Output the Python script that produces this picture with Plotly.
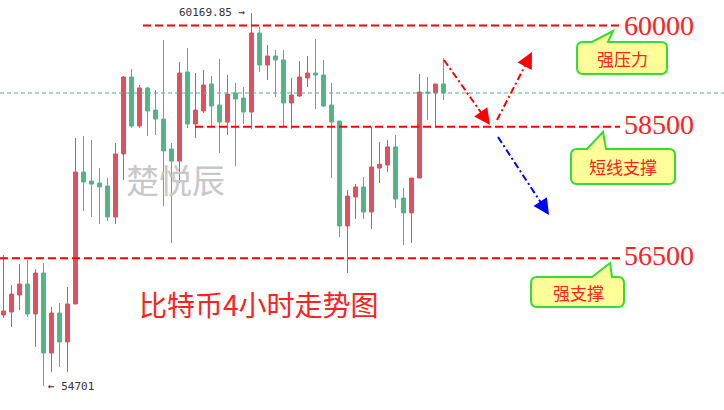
import plotly.graph_objects as go

# ---- data (4h candles) ----
opens = [55742, 55786, 56035, 56196, 55756, 56357, 55185, 55771, 55346, 55903,
         57838, 57706, 57677, 57633, 57179, 58103, 59231, 58513, 59070, 58747,
         58615, 58176, 57998, 59305, 58542, 58733, 59129, 58821, 58571, 58997,
         58923, 58718, 59877, 59407, 59539, 59481, 58850, 58953, 59217, 59290,
         59261, 58821, 58586, 57047, 57472, 57619, 57252, 57897, 57941, 58206,
         57457, 57238, 57750, 59011, 58997, 59129]
highs = [56621, 56181, 56489, 56548, 56415, 56504, 55859, 55917, 56152, 58337,
         58366, 58308, 57897, 57750, 58264, 59246, 59349, 59114, 59085, 59041,
         59774, 58264, 59451, 59657, 59290, 59334, 59246, 59495, 59261, 59143,
         59085, 60169.85, 59965, 59701, 59627, 59627, 59217, 59466, 59539, 59789,
         59481, 59143, 58586, 57575, 57662, 57765, 58498, 58278, 58308, 58381,
         57604, 57750, 59275, 59231, 59129, 59510]
lows = [55698, 55566, 55815, 55712, 55273, 54701, 54906, 54979, 54906, 55903,
        57267, 57179, 57076, 57120, 57076, 57721, 58484, 58484, 58366, 58381,
        57340, 56797, 57677, 58484, 58337, 58704, 58498, 58117, 58381, 57926,
        58542, 58469, 59305, 59187, 58938, 58513, 58469, 58938, 59085, 58762,
        58791, 57750, 56885, 56357, 57149, 57149, 57003, 57677, 57838, 57311,
        56768, 56797, 57750, 58601, 58498, 58894]
closes = [55800, 56049, 56196, 55756, 56357, 55185, 55771, 55346, 55903, 57838,
          57692, 57662, 57619, 57179, 58103, 59231, 58513, 59070, 58733, 58615,
          58147, 57998, 59290, 58542, 58747, 59114, 58806, 58571, 58982, 58909,
          58718, 59877, 59407, 59539, 59481, 58850, 58967, 59231, 59290, 59261,
          58806, 58571, 57047, 57486, 57619, 57252, 57912, 57952, 58206, 57442,
          57238, 57750, 59011, 58997, 59129, 58997]
idx = list(range(len(opens)))

level_labels = ["60000", "58500", "56500"]
level_prices = [59985, 58503, 56575]   # drawn line heights
high_label = "60169.85 →"
low_label = "← 54701"
last_price = 58997

W, H = 724, 410
def PX(x):
    return x / W
def PY(y):
    return 1 - y / H

RED = "#e0505f"
GREEN = "#52b585"

fig = go.Figure(go.Candlestick(
    x=idx, open=opens, high=highs, low=lows, close=closes,
    increasing=dict(line=dict(color=RED, width=1), fillcolor=RED),
    decreasing=dict(line=dict(color=GREEN, width=1), fillcolor=GREEN),
    whiskerwidth=0, showlegend=False, hoverinfo="skip"))

shapes = []
# current price line
shapes.append(dict(type="line", xref="paper", yref="y", x0=0, x1=1,
                   y0=last_price, y1=last_price,
                   line=dict(color="#5aae8a", width=1, dash="4px,3px")))
# level lines
starts = [143, 195, 0]
for lp, sx in zip(level_prices, starts):
    shapes.append(dict(type="line", xref="paper", yref="y", x0=PX(sx), x1=PX(620),
                       y0=lp, y1=lp, line=dict(color="#ff0000", width=2, dash="8px,4px")))

# dash-dot arrows (lines)
arrows = [((444, 60), (487, 121), "#ff0000"),
          ((497, 120), (529, 58), "#ff0000"),
          ((498, 137), (545, 209), "#0000ff")]
for (x0, y0), (x1, y1), col in arrows:
    shapes.append(dict(type="line", xref="paper", yref="paper",
                       x0=PX(x0), y0=PY(y0), x1=PX(x1), y1=PY(y1),
                       line=dict(color=col, width=2, dash="7px,3px,2px,3px")))

def callout(x0, y0, x1, y1, bl, tx, ty, br, r=6):
    pts = [("M", [(x0 + r, y0)]), ("L", [(bl, y0)]), ("L", [(tx, ty)]), ("L", [(br, y0)]),
           ("L", [(x1 - r, y0)]), ("Q", [(x1, y0), (x1, y0 + r)]), ("L", [(x1, y1 - r)]),
           ("Q", [(x1, y1), (x1 - r, y1)]), ("L", [(x0 + r, y1)]),
           ("Q", [(x0, y1), (x0, y1 - r)]), ("L", [(x0, y0 + r)]),
           ("Q", [(x0, y0), (x0 + r, y0)])]
    s = " ".join(c + " " + " ".join(f"{PX(a):.5f},{PY(b):.5f}" for a, b in p) for c, p in pts) + " Z"
    return dict(type="path", xref="paper", yref="paper", path=s,
                fillcolor="#ffff99", line=dict(color="#33dd33", width=2))

shapes.append(callout(577, 42, 667, 74, 592, 613, 31, 608))
shapes.append(callout(571, 149, 675, 184, 587, 603, 132, 606))
shapes.append(callout(531, 277, 624, 307, 592, 610, 263, 612))

ann = []
# arrow heads
heads = [((490, 125), (-5.8, -8.2), "#ff0000"),
         ((532, 52), (-4.6, 8.9), "#ff0000"),
         ((549, 215), (-5.5, -8.4), "#0000ff")]
for (x, y), (ax, ay), col in heads:
    ann.append(dict(x=PX(x), y=PY(y), xref="paper", yref="paper", text="",
                    showarrow=True, ax=ax, ay=ay, arrowhead=2, arrowsize=1.6,
                    arrowwidth=2, arrowcolor=col))

label_y = [25, 124, 255]
for t, ly in zip(level_labels, label_y):
    ann.append(dict(x=PX(622), y=PY(ly), xref="paper", yref="paper", text=t,
                    showarrow=False, xanchor="left", yanchor="middle",
                    font=dict(family="Liberation Serif", size=28, color="#ff2020")))

box_texts = [("强压力", 622, 58), ("短线支撑", 623, 166), ("强支撑", 578, 292)]
for t, x, y in box_texts:
    ann.append(dict(x=PX(x), y=PY(y), xref="paper", yref="paper", text=t,
                    showarrow=False, xanchor="center", yanchor="middle",
                    font=dict(family="Noto Sans CJK SC", size=17, color="#ff2020")))

ann.append(dict(x=PX(248), y=PY(12), xref="paper", yref="paper", text=high_label,
                showarrow=False, xanchor="right", yanchor="middle",
                font=dict(family="DejaVu Sans Mono", size=11, color="#333333")))
ann.append(dict(x=PX(46), y=PY(386), xref="paper", yref="paper", text=low_label,
                showarrow=False, xanchor="left", yanchor="middle",
                font=dict(family="DejaVu Sans Mono", size=11, color="#333333")))
ann.append(dict(x=PX(175), y=PY(179), xref="paper", yref="paper", text="楚悦辰",
                showarrow=False, xanchor="center", yanchor="middle",
                font=dict(family="Noto Sans CJK SC", size=33, color="#c8c8c8")))
ann.append(dict(x=PX(137), y=PY(304), xref="paper", yref="paper", text="比特币4小时走势图",
                showarrow=False, xanchor="left", yanchor="middle",
                font=dict(family="Noto Sans CJK SC", size=28, color="#ff2020")))

fig.update_layout(
    width=W, height=H, margin=dict(l=0, r=0, t=0, b=0),
    paper_bgcolor="white", plot_bgcolor="white",
    xaxis=dict(range=[-0.4375, 90.0625], visible=False, rangeslider=dict(visible=False),
               fixedrange=True),
    yaxis=dict(range=[54348.7, 60360.5], visible=False, fixedrange=True),
    shapes=shapes, annotations=ann, showlegend=False)

fig.write_html("out.html", config={"displayModeBar": False},
               post_script="document.body.style.margin='0';")
